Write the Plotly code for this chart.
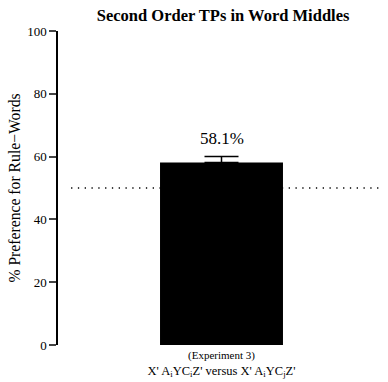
import plotly.graph_objects as go

categories = ["exp3"]
values = [58.1]
errors = [1.9]
tick_labels = ["<span style='font-size:11px'>(Experiment 3)</span><br>X' A<sub>i</sub>YC<sub>i</sub>Z' versus X' A<sub>i</sub>YC<sub>j</sub>Z'"]
value_labels = ["58.1%"]
chance = 50

fig = go.Figure()
fig.add_trace(go.Bar(
    x=categories, y=values, width=0.376,
    marker=dict(color="black", line=dict(width=0)),
    error_y=dict(type="data", array=errors, symmetric=False, arrayminus=[0]*len(errors),
                 color="black", thickness=1.5, width=17, visible=True),
))
fig.add_shape(type="line", xref="paper", yref="y", x0=0.04, x1=0.985, y0=chance, y1=chance,
              line=dict(color="black", width=1.3, dash="1.3px,5.5px"), layer="below")
for c, v, e, t in zip(categories, values, errors, value_labels):
    fig.add_annotation(x=c, y=v + e, text=t, showarrow=False, yshift=18,
                       font=dict(family="Liberation Serif", size=17, color="black"))

fig.update_layout(
    width=388, height=382,
    margin=dict(l=58, r=3, t=31, b=37),
    paper_bgcolor="white", plot_bgcolor="white",
    showlegend=False,
    title=dict(text="<b>Second Order TPs in Word Middles</b>", x=0.575, xanchor="center",
               y=0.96, yanchor="middle",
               font=dict(family="Liberation Serif", size=16.5, color="black")),
    font=dict(family="Liberation Serif", color="black"),
)
fig.update_yaxes(range=[0, 100], tickvals=[0, 20, 40, 60, 80, 100], ticks="outside",
                 ticklen=7, tickwidth=1.5, showline=True, linewidth=1.5, linecolor="black",
                 showgrid=False, zeroline=False, tickfont=dict(size=13),
                 title=dict(text="% Preference for Rule\u2212Words", font=dict(size=15.7), standoff=3))
fig.update_xaxes(range=[-0.5, 0.5], tickvals=categories, ticktext=tick_labels,
                 showline=False, showgrid=False, zeroline=False, ticks="",
                 tickfont=dict(size=12.5))
fig.write_html("out.html")
